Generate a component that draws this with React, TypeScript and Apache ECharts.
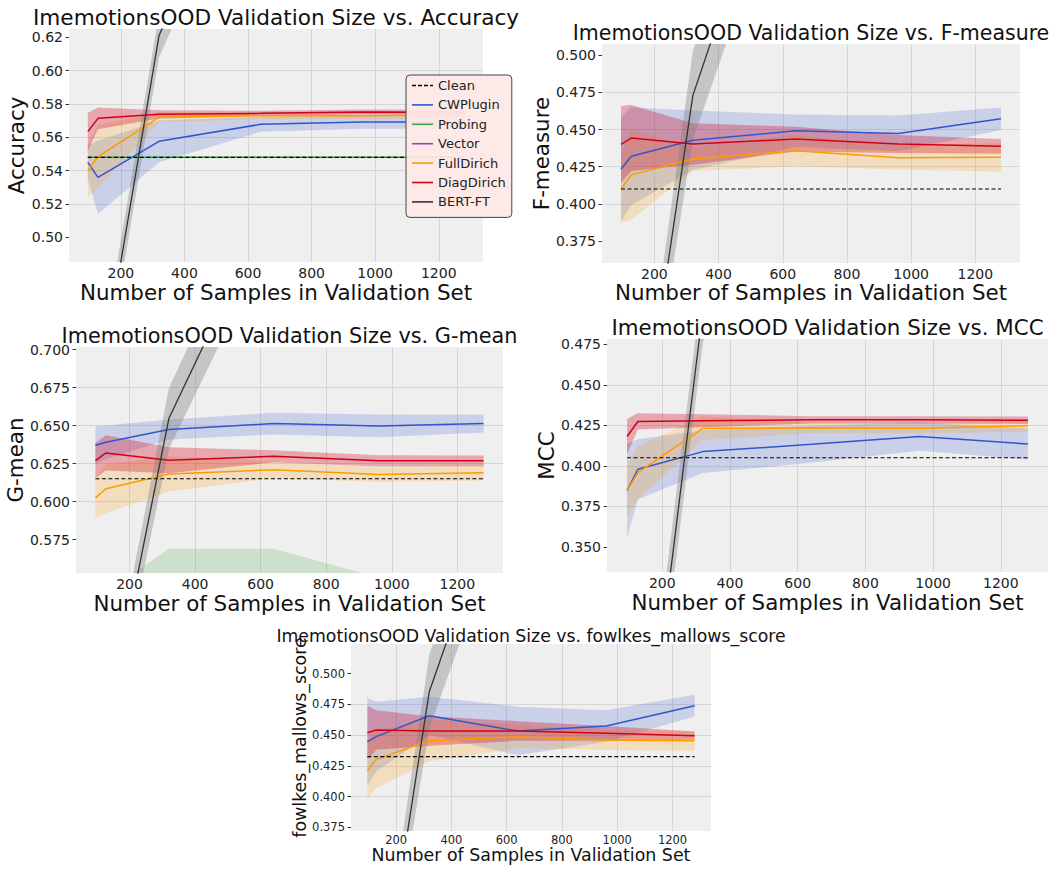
import React, { useEffect, useRef } from "react";
import * as echarts from "echarts";

// ---------------- data ----------------
const SAMPLE_SIZES = [96, 128, 320, 640, 960, 1280];
const METHOD_NAMES = ["Clean", "CWPlugin", "Probing", "Vector", "FullDirich", "DiagDirich", "BERT-FT"];
const X_TICKS = [200, 400, 600, 800, 1000, 1200];

// Accuracy
const ACC_CLEAN = [0.548, 0.548, 0.548, 0.548, 0.548, 0.548];
const ACC_CWPLUGIN_MEAN = [0.545, 0.536, 0.5576, 0.5678, 0.5692, 0.5692];
const ACC_CWPLUGIN_STD = [0.01, 0.022, 0.0125, 0.0045, 0.004, 0.004];
const ACC_PROBING_MEAN = [0.548, 0.548, 0.548, 0.548, 0.548, 0.548];
const ACC_PROBING_STD = [0.0006, 0.0006, 0.0006, 0.0006, 0.0006, 0.0006];
const ACC_FULLDIRICH_MEAN = [0.5398, 0.5484, 0.572, 0.573, 0.573, 0.5734];
const ACC_FULLDIRICH_STD = [0.0154, 0.019, 0.003, 0.002, 0.002, 0.002];
const ACC_DIAGDIRICH_MEAN = [0.5634, 0.5714, 0.5738, 0.5744, 0.5752, 0.575];
const ACC_DIAGDIRICH_STD = [0.0113, 0.0065, 0.0025, 0.0015, 0.0015, 0.0015];
const ACC_BERT_MEAN = [0.37, 0.404, 0.621, 0.765, 0.79, 0.8];
const ACC_BERT_STD = [0.013, 0.013, 0.013, 0.02, 0.02, 0.02];
const ACC_Y_TICKS = [0.5, 0.52, 0.54, 0.56, 0.58, 0.6, 0.62];

// F-measure
const F_CLEAN = [0.41, 0.41, 0.41, 0.41, 0.41, 0.41];
const F_CWPLUGIN_MEAN = [0.4233, 0.432, 0.4428, 0.4492, 0.4474, 0.4573];
const F_CWPLUGIN_STD = [0.035, 0.033, 0.02, 0.011, 0.012, 0.0076];
const F_FULLDIRICH_MEAN = [0.4099, 0.4195, 0.4302, 0.4358, 0.4311, 0.4313];
const F_FULLDIRICH_STD = [0.023, 0.03, 0.008, 0.0105, 0.008, 0.0096];
const F_DIAGDIRICH_MEAN = [0.4401, 0.4443, 0.4403, 0.4436, 0.4403, 0.4387];
const F_DIAGDIRICH_STD = [0.0257, 0.0222, 0.014, 0.0083, 0.006, 0.005];
const F_BERT_MEAN = [0.15, 0.193, 0.473, 0.678, 0.7, 0.71];
const F_BERT_STD = [0.012, 0.012, 0.03, 0.035, 0.035, 0.035];
const F_Y_TICKS = [0.375, 0.4, 0.425, 0.45, 0.475, 0.5];

// G-mean
const G_CLEAN = [0.615, 0.615, 0.615, 0.615, 0.615, 0.615];
const G_CWPLUGIN_MEAN = [0.6371, 0.639, 0.6474, 0.6513, 0.6498, 0.6513];
const G_CWPLUGIN_STD = [0.0125, 0.011, 0.0066, 0.0071, 0.0075, 0.0059];
const G_PROBING_MEAN = [0.49, 0.5, 0.53, 0.53, 0.51, 0.5];
const G_PROBING_STD = [0.04, 0.04, 0.039, 0.039, 0.04, 0.04];
const G_FULLDIRICH_MEAN = [0.6024, 0.6084, 0.6182, 0.6209, 0.6178, 0.6189];
const G_FULLDIRICH_STD = [0.0134, 0.016, 0.0116, 0.0055, 0.005, 0.005];
const G_DIAGDIRICH_MEAN = [0.627, 0.632, 0.6272, 0.6298, 0.6268, 0.6268];
const G_DIAGDIRICH_STD = [0.0115, 0.0116, 0.0085, 0.004, 0.0037, 0.0035];
const G_BERT_MEAN = [0.41, 0.4475, 0.6546, 0.8, 0.82, 0.83];
const G_BERT_STD = [0.013, 0.013, 0.02, 0.023, 0.023, 0.023];
const G_Y_TICKS = [0.575, 0.6, 0.625, 0.65, 0.675, 0.7];

// MCC
const M_CLEAN = [0.405, 0.405, 0.405, 0.405, 0.405, 0.405];
const M_CWPLUGIN_MEAN = [0.3847, 0.3979, 0.4088, 0.4133, 0.4181, 0.4135];
const M_CWPLUGIN_STD = [0.029, 0.0185, 0.0132, 0.0114, 0.0088, 0.0096];
const M_FULLDIRICH_MEAN = [0.3847, 0.3958, 0.4232, 0.4236, 0.4232, 0.4247];
const M_FULLDIRICH_STD = [0.0157, 0.0165, 0.0072, 0.0035, 0.003, 0.0037];
const M_DIAGDIRICH_MEAN = [0.4181, 0.4274, 0.4278, 0.4284, 0.4284, 0.4282];
const M_DIAGDIRICH_STD = [0.011, 0.005, 0.004, 0.0023, 0.0023, 0.0023];
const M_BERT_MEAN = [0.12, 0.1714, 0.4961, 0.65, 0.68, 0.69];
const M_BERT_STD = [0.02, 0.02, 0.02, 0.02, 0.02, 0.02];
const M_Y_TICKS = [0.35, 0.375, 0.4, 0.425, 0.45, 0.475];

// fowlkes_mallows_score
const FM_CLEAN = [0.4325, 0.4325, 0.4325, 0.4325, 0.4325, 0.4325];
const FM_CWPLUGIN_MEAN = [0.4447, 0.4488, 0.4658, 0.4534, 0.4574, 0.474];
const FM_CWPLUGIN_STD = [0.036, 0.0284, 0.0155, 0.0198, 0.0128, 0.0088];
const FM_FULLDIRICH_MEAN = [0.4211, 0.4303, 0.4455, 0.4488, 0.446, 0.4455];
const FM_FULLDIRICH_STD = [0.0233, 0.0236, 0.017, 0.0095, 0.008, 0.0081];
const FM_DIAGDIRICH_MEAN = [0.452, 0.4542, 0.4534, 0.4534, 0.4515, 0.4496];
const FM_DIAGDIRICH_STD = [0.022, 0.016, 0.012, 0.008, 0.006, 0.0034];
const FM_BERT_MEAN = [0.16, 0.207, 0.4854, 0.692, 0.71, 0.72];
const FM_BERT_STD = [0.018, 0.018, 0.03, 0.035, 0.035, 0.035];
const FM_Y_TICKS = [0.375, 0.4, 0.425, 0.45, 0.475, 0.5];

// ---------------- styles / layout ----------------
const FONT = "DejaVu Sans";
const COLORS: Record<string, string> = {
  Clean: "#000000",
  CWPlugin: "#3355cc",
  Probing: "#3fa33f",
  Vector: "#9646b4",
  FullDirich: "#ff9a00",
  DiagDirich: "#d1001a",
  "BERT-FT": "#333333",
};
const BAND_COLORS: Record<string, string> = {
  CWPlugin: "rgba(51,85,204,0.2)",
  Probing: "rgba(63,163,63,0.2)",
  FullDirich: "rgba(255,154,0,0.2)",
  DiagDirich: "rgba(209,0,26,0.3)",
  "BERT-FT": "rgba(120,120,120,0.35)",
};
const LINE_ICON = "path://M0,0L21,0L21,1.6L0,1.6Z";
const DASH_ICON = "path://M0,0h4v1.6h-4zM6,0h4v1.6h-4zM12,0h4v1.6h-4zM18,0h3v1.6h-3z";

type Band = { mean: number[]; std: number[] };
type Panel = {
  title: string;
  yName: string;
  clean: number[];
  methods: Record<string, Band>;
  yTicks: number[];
  yMin: number;
  yMax: number;
  yStep: number;
  decimals: number;
  left: number;
  top: number;
  width: number;
  height: number;
  titleY: number;
  titleSize: number;
  nameSize: number;
  tickSize: number;
  yNameGap: number;
  xNameGap: number;
  xLabelMargin: number;
};

const PANELS: Panel[] = [
  {
    title: "ImemotionsOOD Validation Size vs. Accuracy",
    yName: "Accuracy",
    clean: ACC_CLEAN,
    methods: {
      CWPlugin: { mean: ACC_CWPLUGIN_MEAN, std: ACC_CWPLUGIN_STD },
      Probing: { mean: ACC_PROBING_MEAN, std: ACC_PROBING_STD },
      FullDirich: { mean: ACC_FULLDIRICH_MEAN, std: ACC_FULLDIRICH_STD },
      DiagDirich: { mean: ACC_DIAGDIRICH_MEAN, std: ACC_DIAGDIRICH_STD },
      "BERT-FT": { mean: ACC_BERT_MEAN, std: ACC_BERT_STD },
    },
    yTicks: ACC_Y_TICKS, yMin: 0.4852, yMax: 0.625, yStep: 0.02, decimals: 2,
    left: 69, top: 29, width: 414, height: 233, titleY: 17.5,
    titleSize: 21.6, nameSize: 21.4, tickSize: 14, yNameGap: 42, xNameGap: 20, xLabelMargin: 4,
  },
  {
    title: "ImemotionsOOD Validation Size vs. F-measure",
    yName: "F-measure",
    clean: F_CLEAN,
    methods: {
      CWPlugin: { mean: F_CWPLUGIN_MEAN, std: F_CWPLUGIN_STD },
      FullDirich: { mean: F_FULLDIRICH_MEAN, std: F_FULLDIRICH_STD },
      DiagDirich: { mean: F_DIAGDIRICH_MEAN, std: F_DIAGDIRICH_STD },
      "BERT-FT": { mean: F_BERT_MEAN, std: F_BERT_STD },
    },
    yTicks: F_Y_TICKS, yMin: 0.3602, yMax: 0.5076, yStep: 0.025, decimals: 3,
    left: 602, top: 44, width: 418, height: 219, titleY: 33,
    titleSize: 20.5, nameSize: 21.4, tickSize: 14, yNameGap: 48, xNameGap: 19, xLabelMargin: 4,
  },
  {
    title: "ImemotionsOOD Validation Size vs. G-mean",
    yName: "G-mean",
    clean: G_CLEAN,
    methods: {
      CWPlugin: { mean: G_CWPLUGIN_MEAN, std: G_CWPLUGIN_STD },
      Probing: { mean: G_PROBING_MEAN, std: G_PROBING_STD },
      FullDirich: { mean: G_FULLDIRICH_MEAN, std: G_FULLDIRICH_STD },
      DiagDirich: { mean: G_DIAGDIRICH_MEAN, std: G_DIAGDIRICH_STD },
      "BERT-FT": { mean: G_BERT_MEAN, std: G_BERT_STD },
    },
    yTicks: G_Y_TICKS, yMin: 0.553, yMax: 0.7017, yStep: 0.025, decimals: 3,
    left: 76, top: 347, width: 427, height: 226, titleY: 336,
    titleSize: 20.8, nameSize: 21.4, tickSize: 14, yNameGap: 50, xNameGap: 20, xLabelMargin: 4,
  },
  {
    title: "ImemotionsOOD Validation Size vs. MCC",
    yName: "MCC",
    clean: M_CLEAN,
    methods: {
      CWPlugin: { mean: M_CWPLUGIN_MEAN, std: M_CWPLUGIN_STD },
      FullDirich: { mean: M_FULLDIRICH_MEAN, std: M_FULLDIRICH_STD },
      DiagDirich: { mean: M_DIAGDIRICH_MEAN, std: M_DIAGDIRICH_STD },
      "BERT-FT": { mean: M_BERT_MEAN, std: M_BERT_STD },
    },
    yTicks: M_Y_TICKS, yMin: 0.3345, yMax: 0.4783, yStep: 0.025, decimals: 3,
    left: 607, top: 339, width: 441, height: 233, titleY: 327.5,
    titleSize: 21.4, nameSize: 21.4, tickSize: 14, yNameGap: 50, xNameGap: 20, xLabelMargin: 4,
  },
  {
    title: "ImemotionsOOD Validation Size vs. fowlkes_mallows_score",
    yName: "fowlkes_mallows_score",
    clean: FM_CLEAN,
    methods: {
      CWPlugin: { mean: FM_CWPLUGIN_MEAN, std: FM_CWPLUGIN_STD },
      FullDirich: { mean: FM_FULLDIRICH_MEAN, std: FM_FULLDIRICH_STD },
      DiagDirich: { mean: FM_DIAGDIRICH_MEAN, std: FM_DIAGDIRICH_STD },
      "BERT-FT": { mean: FM_BERT_MEAN, std: FM_BERT_STD },
    },
    yTicks: FM_Y_TICKS, yMin: 0.372, yMax: 0.5242, yStep: 0.025, decimals: 3,
    left: 351, top: 644, width: 360, height: 187, titleY: 636,
    titleSize: 17.3, nameSize: 17.4, tickSize: 11.5, yNameGap: 42, xNameGap: 15, xLabelMargin: 3,
  },
];

const X_MIN = 36.8;
const X_MAX = 1339.2;

// Sutherland-Hodgman clipping of a pixel polygon against the plot rectangle
function clipPolygon(pts: number[][], x0: number, x1: number, y0: number, y1: number) {
  const edges = [
    { inside: (p: number[]) => p[0] >= x0, cut: (a: number[], b: number[]) => [x0, a[1] + ((x0 - a[0]) / (b[0] - a[0])) * (b[1] - a[1])] },
    { inside: (p: number[]) => p[0] <= x1, cut: (a: number[], b: number[]) => [x1, a[1] + ((x1 - a[0]) / (b[0] - a[0])) * (b[1] - a[1])] },
    { inside: (p: number[]) => p[1] >= y0, cut: (a: number[], b: number[]) => [a[0] + ((y0 - a[1]) / (b[1] - a[1])) * (b[0] - a[0]), y0] },
    { inside: (p: number[]) => p[1] <= y1, cut: (a: number[], b: number[]) => [a[0] + ((y1 - a[1]) / (b[1] - a[1])) * (b[0] - a[0]), y1] },
  ];
  let out = pts;
  for (const e of edges) {
    const input = out;
    out = [];
    if (!input.length) break;
    for (let i = 0; i < input.length; i++) {
      const cur = input[i];
      const prev = input[(i + input.length - 1) % input.length];
      if (e.inside(cur)) {
        if (!e.inside(prev)) out.push(e.cut(prev, cur));
        out.push(cur);
      } else if (e.inside(prev)) {
        out.push(e.cut(prev, cur));
      }
    }
  }
  return out;
}

function buildOption() {
  const grid: any[] = [];
  const xAxis: any[] = [];
  const yAxis: any[] = [];
  const series: any[] = [];
  const graphic: any[] = [];

  PANELS.forEach((p, gi) => {
    grid.push({
      left: p.left, top: p.top, width: p.width, height: p.height,
      show: true, backgroundColor: "#efefef", borderWidth: 0,
      containLabel: false, outerBoundsMode: "none",
    });
    xAxis.push({
      type: "value", gridIndex: gi, min: X_MIN, max: X_MAX,
      splitNumber: 6, minInterval: 200, maxInterval: 200,
      axisLine: { show: false },
      axisTick: { show: false },
      axisLabel: {
        customValues: X_TICKS, fontSize: p.tickSize, fontFamily: FONT, color: "#222",
        margin: p.xLabelMargin, formatter: (v: number) => String(v),
      },
      splitLine: { show: true, showMinLine: false, showMaxLine: false, lineStyle: { color: "#d5d5d5", width: 1 } },
      name: "Number of Samples in Validation Set",
      nameLocation: "middle", nameGap: p.xNameGap,
      nameTextStyle: { fontSize: p.nameSize, fontFamily: FONT, color: "#111" },
    });
    yAxis.push({
      type: "value", gridIndex: gi, min: p.yMin, max: p.yMax,
      splitNumber: 6, minInterval: p.yStep, maxInterval: p.yStep,
      axisLine: { show: false },
      axisTick: { show: true, length: 3.5, customValues: p.yTicks, lineStyle: { color: "#333", width: 1 } },
      axisLabel: {
        customValues: p.yTicks, fontSize: p.tickSize, fontFamily: FONT, color: "#222", margin: 6,
        formatter: (v: number) => v.toFixed(p.decimals),
      },
      splitLine: { show: true, showMinLine: false, showMaxLine: false, lineStyle: { color: "#d5d5d5", width: 1 } },
      name: p.yName, nameLocation: "middle", nameGap: p.yNameGap,
      nameTextStyle: { fontSize: p.nameSize, fontFamily: FONT, color: "#111" },
    });

    graphic.push({
      type: "text", x: p.left + p.width / 2, y: p.titleY,
      style: {
        text: p.title, fontSize: p.titleSize, fontFamily: FONT, fill: "#111",
        align: "center", verticalAlign: "middle",
      },
    });

    const addMethod = (key: string) => {
      const m = p.methods[key];
      if (!m) return;
      series.push({
        type: "custom", name: `${key} band ${gi}`, xAxisIndex: gi, yAxisIndex: gi,
        coordinateSystem: "cartesian2d", silent: true,
        data: [[SAMPLE_SIZES[0], m.mean[0]]],
        renderItem: (params: any, api: any) => {
          const cs = params.coordSys;
          const upper = SAMPLE_SIZES.map((x, i) => api.coord([x, m.mean[i] + m.std[i]]));
          const lower = SAMPLE_SIZES.map((x, i) => api.coord([x, m.mean[i] - m.std[i]])).reverse();
          const pts = clipPolygon(upper.concat(lower), cs.x, cs.x + cs.width, cs.y, cs.y + cs.height);
          if (pts.length < 3) return null;
          return { type: "polygon", shape: { points: pts }, style: { fill: BAND_COLORS[key] } };
        },
      });
      series.push({
        type: "line", name: key, xAxisIndex: gi, yAxisIndex: gi,
        symbol: "none", silent: true,
        lineStyle: { color: COLORS[key], width: key === "BERT-FT" ? 1.3 : 1.5 },
        itemStyle: { color: COLORS[key] },
        data: SAMPLE_SIZES.map((x, i) => [x, m.mean[i]]),
      });
    };
    ["CWPlugin", "Probing", "FullDirich", "DiagDirich"].forEach(addMethod);
    if (gi === 0) {
      series.push({
        type: "line", name: "Vector", xAxisIndex: 0, yAxisIndex: 0, symbol: "none",
        lineStyle: { color: COLORS.Vector, width: 1.5 }, itemStyle: { color: COLORS.Vector }, data: [],
      });
    }
    series.push({
      type: "line", name: "Clean", xAxisIndex: gi, yAxisIndex: gi, symbol: "none", silent: true,
      lineStyle: { color: COLORS.Clean, width: 1.2, type: [4, 2.5] },
      itemStyle: { color: COLORS.Clean },
      data: SAMPLE_SIZES.map((x, i) => [x, p.clean[i]]),
    });
    addMethod("BERT-FT");
  });

  return {
    animation: false,
    backgroundColor: "#ffffff",
    textStyle: { fontFamily: FONT },
    grid, xAxis, yAxis, series, graphic,
    legend: {
      data: METHOD_NAMES.map((n) => ({ name: n, icon: n === "Clean" ? DASH_ICON : LINE_ICON })),
      orient: "vertical", left: 406, top: 75,
      padding: [4, 6, 9, 6],
      itemWidth: 21, itemHeight: 14, itemGap: 6.4,
      symbolKeepAspect: true,
      selectedMode: false,
      backgroundColor: "rgba(253,232,230,0.95)",
      borderColor: "#444", borderWidth: 1, borderRadius: 4,
      textStyle: { fontSize: 13, fontFamily: FONT, color: "#222" },
    },
  };
}

export default function App() {
  const ref = useRef<HTMLDivElement>(null);
  useEffect(() => {
    if (!ref.current) return;
    const chart = echarts.init(ref.current, undefined, { renderer: "svg" });
    chart.setOption(buildOption() as any);
    return () => chart.dispose();
  }, []);
  return (
    <div
      ref={ref}
      style={{ position: "fixed", left: 0, top: 0, width: 1058, height: 871, background: "#fff" }}
    />
  );
}
